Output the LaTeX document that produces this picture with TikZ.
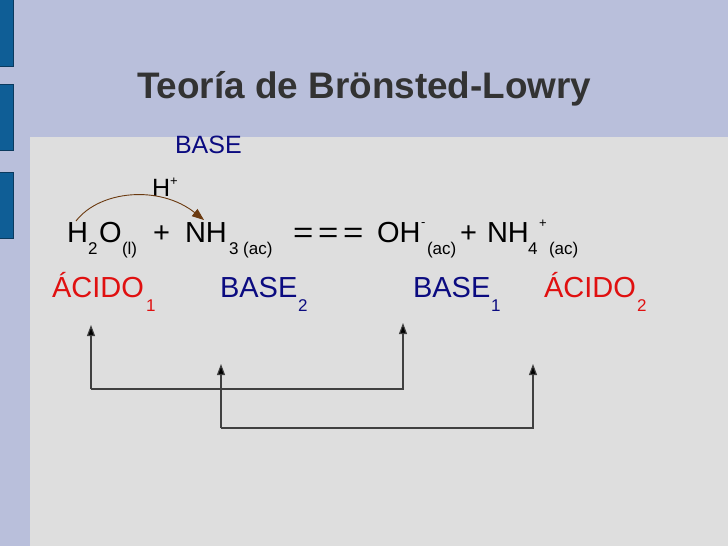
\documentclass[tikz,border=0pt]{standalone}
\usepackage{graphicx}
\usepackage{fontspec}
\setmainfont{Liberation Sans}
\usetikzlibrary{arrows.meta}
\definecolor{slidebg}{HTML}{B9BFDB}
\definecolor{panel}{HTML}{DEDEDE}
\definecolor{barblue}{HTML}{0F5E96}
\definecolor{barline}{HTML}{0B3A5E}
\definecolor{navy}{HTML}{0B0B80}
\definecolor{acid}{HTML}{E01010}
\definecolor{titlecol}{HTML}{333333}
\definecolor{brownarrow}{HTML}{6B3A10}
\newcommand{\fs}[1]{\fontsize{#1}{#1}\selectfont}
\newcommand{\wideeq}{\scalebox{1.2}[1]{=}}
\tikzset{
  x=1pt,y=-1pt,
  txt/.style={anchor=base west,inner sep=0pt,outer sep=0pt},
  big/.style={txt,font=\fs{29}},
  sub/.style={txt,font=\fs{17}},
  tiny/.style={txt,font=\fs{13}},
  lab/.style={txt,font=\fs{29}},
  labsub/.style={txt,font=\fs{17}},
  bar/.style={fill=barblue,draw=barline,line width=0.8pt},
  link/.style={draw=black!75,line width=1.1pt,-{Triangle[length=11pt,width=8pt,fill=black]}},
}
\begin{document}
\begin{tikzpicture}
\useasboundingbox (0,0) rectangle (728,546);
\fill[slidebg] (0,0) rectangle (728,546);
\fill[panel] (30,137) rectangle (728,546);
\draw[bar] (-2,-2) rectangle (13,66);
\draw[bar] (-2,84) rectangle (13,150);
\draw[bar] (-2,172) rectangle (13,238);
\node[txt,font=\bfseries\fs{36.9},text=titlecol] (title) at (137,98) {Teoría de Brönsted-Lowry};
\node[txt,font=\fs{25},text=navy] (base) at (175,153) {BASE};
\node[txt,font=\fs{25}] (h) at (152,196) {H};
\node[tiny] (hplus) at (170,185) {+};
\node[big] (h2) at (67,242) {H};
\node[sub] (two) at (88,254) {2};
\node[big] (o) at (99,242) {O};
\node[sub] (l) at (122,254) {(l)};
\node[big] (plus1) at (153,242) {+};
\node[big] (nh3) at (185,242) {NH};
\node[sub] (three) at (229,254) {3 (ac)};
\node[big] (eq) at (293,242) {\wideeq\kern4.7pt\wideeq\kern4.7pt\wideeq};
\node[big] (oh) at (377,242) {OH};
\node[tiny] (minus) at (421,226) {-};
\node[sub] (ac1) at (427,254) {(ac)};
\node[big] (plus2) at (460,242) {+};
\node[big] (nh4) at (487,242) {NH};
\node[tiny] (plus3) at (539,227) {+};
\node[sub] (four) at (528,254) {4};
\node[sub] (ac2) at (549,254) {(ac)};
\node[lab,text=acid] (a1) at (52,297) {ÁCIDO};
\node[labsub,text=acid] at (146,311) {1};
\node[lab,text=navy] (b2) at (220,297) {BASE};
\node[labsub,text=navy] at (298,311) {2};
\node[lab,text=navy] (b1) at (413,297) {BASE};
\node[labsub,text=navy] at (491,311) {1};
\node[lab,text=acid] (a2) at (544,297) {ÁCIDO};
\node[labsub,text=acid] at (637,311) {2};
\coordinate (c1) at (76,221);
\coordinate (c2) at (204,220);
\draw[brownarrow,line width=0.9pt,-{Triangle[length=12pt,width=9pt]}] (c1) .. controls (100,190) and (160,185) .. (c2);
\coordinate (t1) at (91,325);
\coordinate (t2) at (403,323);
\coordinate (t3) at (221,364);
\coordinate (t4) at (533,364);
\coordinate (m1) at (91,389);
\coordinate (m2) at (403,389);
\coordinate (m3) at (221,428);
\coordinate (m4) at (533,428);
\draw[link] (m1) -- (t1);
\draw[link] (m1) -- (m2) -- (t2);
\draw[link] (m3) -- (t3);
\draw[link] (m3) -- (m4) -- (t4);
\end{tikzpicture}
\end{document}
